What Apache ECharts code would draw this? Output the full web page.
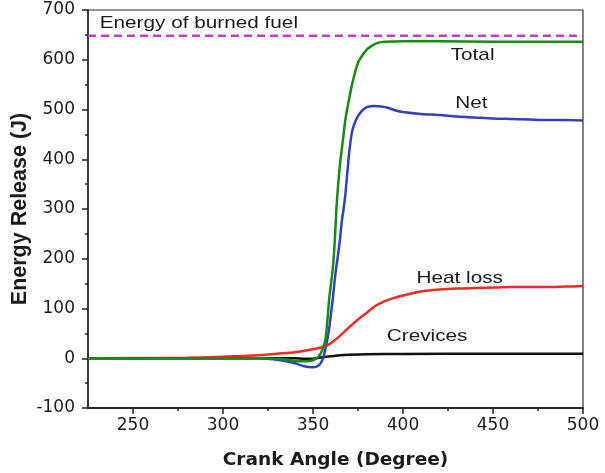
<!DOCTYPE html>
<html>
<head>
<meta charset="utf-8">
<script src="https://cdn.jsdelivr.net/npm/echarts@6/dist/echarts.min.js"></script>
<style>
  html, body { margin: 0; padding: 0; background: #fff; }
  #chart { width: 605px; height: 473px; }
</style>
</head>
<body>
<div id="chart"></div>
<script>
// Crank angle (degree) samples for each energy curve
const totalAngle = [225, 280, 320, 330, 336, 342, 346, 350, 353, 355, 357, 359, 360, 361, 362, 363, 364, 365, 366, 367, 368, 370, 372, 375, 378, 380, 383, 386, 390, 400, 420, 450, 480, 500];
const totalEnergy = [0, 0, 0, -1, -3, -6, -6, -4, 3, 15, 40, 120, 150, 180, 230, 300, 350, 390, 420, 450, 480, 520, 555, 594, 612, 621, 629, 634, 636, 637, 637, 636, 636, 636];

const netAngle = [225, 300, 320, 330, 335, 340, 345, 350, 353, 355, 357, 359, 360, 361, 362, 363, 364, 365, 366, 367, 368, 369, 370, 371, 372, 374, 376, 378, 380, 384, 388, 392, 396, 400, 410, 420, 430, 440, 450, 460, 470, 480, 490, 500];
const netEnergy = [0, 0, 0, -3, -6, -10, -16, -18, -15, -5, 20, 60, 90, 120, 155, 185, 210, 240, 275, 300, 330, 370, 410, 440, 460, 480, 492, 500, 505, 507, 506, 503, 498, 495, 491, 489, 486, 484, 482, 481, 480, 479, 479, 478];

const heatAngle = [225, 280, 300, 320, 330, 340, 350, 355, 358, 361, 365, 370, 375, 380, 385, 390, 395, 400, 410, 420, 430, 440, 450, 460, 470, 480, 490, 500];
const heatEnergy = [0, 1, 3, 6, 9, 12, 18, 22, 26, 33, 45, 62, 78, 92, 106, 115, 121, 126, 134, 138, 140, 141, 142, 143, 143, 143, 144, 145];

const crevAngle = [225, 340, 345, 350, 355, 360, 365, 370, 380, 400, 450, 500];
const crevEnergy = [0, 0, -1, -1, 2, 4, 6, 7, 8, 8.5, 9, 9];

// Fuel energy reference level
const burnedFuelEnergy = 648;

// Axis ticks
const xMajorTicks = [250, 300, 350, 400, 450, 500];
const xMinorTicks = [275, 325, 375, 425, 475];

// Curve captions: [text, angle, energy]
const curveLabels = [
  ['Energy of burned fuel', 231.5, 673],
  ['Total', 426.5, 608],
  ['Net', 429, 512],
  ['Heat loss', 407.5, 160],
  ['Crevices', 391, 44]
];

const pair = (xs, ys) => xs.map((x, i) => [x, ys[i]]);

const chart = echarts.init(document.getElementById('chart'));
const textColor = '#1a1a1a';
const labelFont = 'DejaVu Sans, sans-serif';
const captionFont = 'Liberation Sans, Arial, sans-serif';

const xBase = {
  type: 'value', min: 225, max: 500,
  axisLine: { show: true, onZero: false, lineStyle: { color: '#222', width: 1.5 } },
  splitLine: { show: false }
};

chart.setOption({
  animation: false,
  grid: {
    left: 88, top: 10, right: 22, bottom: 65,
    outerBoundsMode: 'none', containLabel: false,
    show: true, borderColor: '#333', borderWidth: 1.2, backgroundColor: 'transparent'
  },
  xAxis: [
    Object.assign({}, xBase, {
      name: 'Crank Angle (Degree)', nameLocation: 'middle', nameGap: 43,
      nameTextStyle: { fontSize: 18.5, fontWeight: 'bold', color: textColor, fontFamily: labelFont },
      axisTick: { show: true, length: 6, inside: false, customValues: xMajorTicks, lineStyle: { color: '#222', width: 1.5 } },
      axisLabel: { show: true, customValues: xMajorTicks, fontSize: 17, color: textColor, fontFamily: labelFont, margin: 9 }
    }),
    Object.assign({}, xBase, {
      position: 'bottom',
      axisTick: { show: true, length: 3, customValues: xMinorTicks, lineStyle: { color: '#222', width: 1.5 } },
      axisLabel: { show: false }
    })
  ],
  yAxis: {
    type: 'value', min: -100, max: 700, interval: 100,
    name: 'Energy Release (J)', nameLocation: 'middle', nameGap: 57, nameRotate: 90,
    nameMoveOverlap: false,
    nameTextStyle: { fontSize: 21.5, fontWeight: 'bold', color: textColor, fontFamily: captionFont },
    axisLine: { show: true, onZero: false, lineStyle: { color: '#222', width: 1.5 } },
    axisTick: { show: true, length: 6, lineStyle: { color: '#222', width: 1.5 } },
    minorTick: { show: true, splitNumber: 2, length: 3, lineStyle: { color: '#222', width: 1.5 } },
    axisLabel: { fontSize: 17, color: textColor, fontFamily: labelFont, margin: 13 },
    splitLine: { show: false }
  },
  series: [
    {
      name: 'Energy of burned fuel', type: 'line', symbol: 'none',
      data: [[225, burnedFuelEnergy], [500, burnedFuelEnergy]],
      lineStyle: { color: '#c43cc4', width: 2.5, type: [8, 5] }, z: 2
    },
    {
      name: 'Crevices', type: 'line', symbol: 'none', smooth: 0.3,
      data: pair(crevAngle, crevEnergy),
      lineStyle: { color: '#111', width: 2.5 }, z: 3
    },
    {
      name: 'Net', type: 'line', symbol: 'none', smooth: 0.3,
      data: pair(netAngle, netEnergy),
      lineStyle: { color: '#3341b8', width: 2.5 }, z: 4
    },
    {
      name: 'Heat loss', type: 'line', symbol: 'none', smooth: 0.3,
      data: pair(heatAngle, heatEnergy),
      lineStyle: { color: '#ee2a22', width: 2.5 }, z: 5
    },
    {
      name: 'Total', type: 'line', symbol: 'none', smooth: 0.3,
      data: pair(totalAngle, totalEnergy),
      lineStyle: { color: '#188a18', width: 2.5 }, z: 6
    }
  ]
});

// Captions sit at data coordinates, widened to the figure's text proportions
chart.setOption({
  graphic: curveLabels.map(([text, a, e]) => {
    const p = chart.convertToPixel({ gridIndex: 0 }, [a, e]);
    return {
      type: 'text', x: p[0], y: p[1], scaleX: 1.22, originX: 0, originY: 0,
      style: { text, fontSize: 17, fill: textColor, fontFamily: captionFont, textVerticalAlign: 'middle' },
      z: 10
    };
  })
});
</script>
</body>
</html>
